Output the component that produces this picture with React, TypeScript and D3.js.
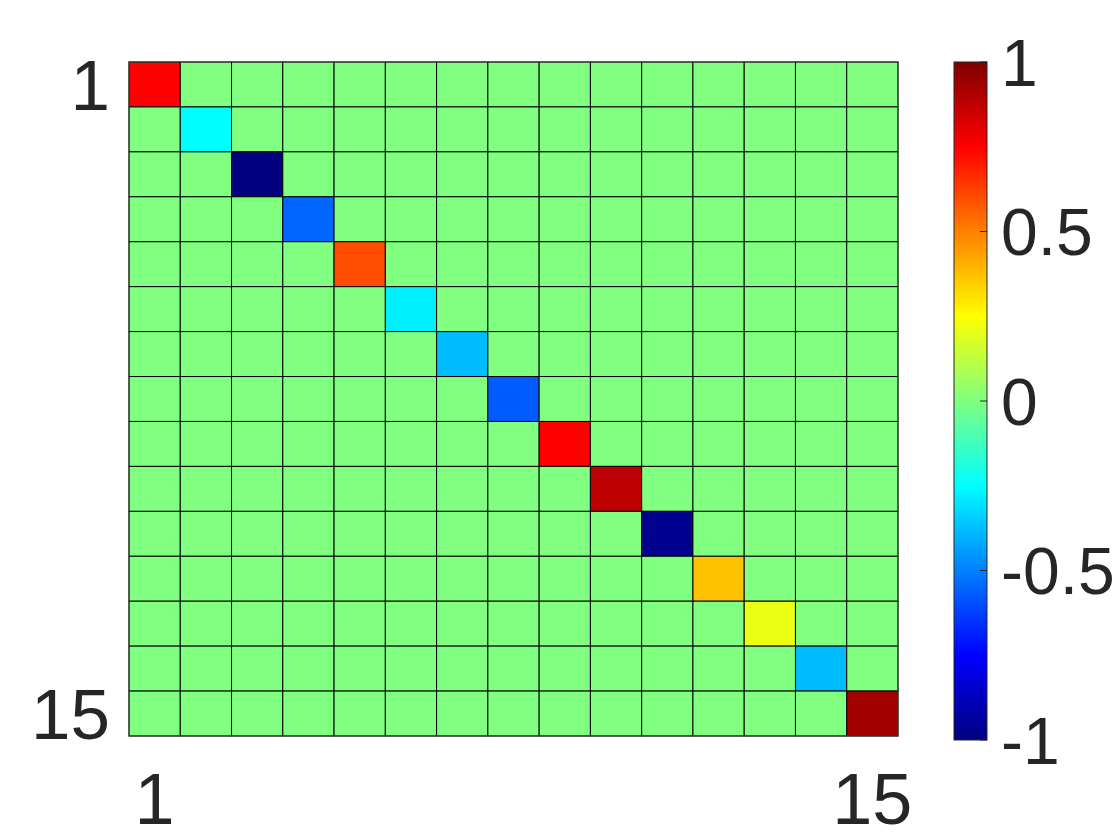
import React from "react";
import * as d3 from "d3";

// diagonal entries of the 15x15 matrix, everything else is 0
const diagonal = [0.75, -0.25, -1, -0.55, 0.6, -0.28, -0.38, -0.57, 0.75, 0.88, -0.97, 0.37, 0.21, -0.38, 0.93];
const indices = d3.range(1, 16);
const axisTicks = [1, 15];
const colorbarTicks = [-1, -0.5, 0, 0.5, 1];

const W = 1120;
const H = 840;
const grid = { left: 129, top: 62, right: 898, bottom: 736 };
const bar = { left: 954, right: 987, top: 62, bottom: 740 };
const font = "'Liberation Sans', Arial, Helvetica, sans-serif";
const textColor = "#262626";

// MATLAB-style jet colormap
const jet = (t: number) => {
  const c = (x: number) => Math.round(255 * Math.max(0, Math.min(1, x)));
  return d3.rgb(c(1.5 - Math.abs(4 * t - 3)), c(1.5 - Math.abs(4 * t - 2)), c(1.5 - Math.abs(4 * t - 1))).formatHex();
};

const App = () => {
  const x = d3.scaleBand<number>().domain(indices).range([grid.left, grid.right]);
  const y = d3.scaleBand<number>().domain(indices).range([grid.top, grid.bottom]);
  const color = d3.scaleSequential(jet).domain([-1, 1]);
  const cbY = d3.scaleLinear().domain([-1, 1]).range([bar.bottom, bar.top]);

  const cells = indices.flatMap((r) =>
    indices.map((c) => ({ r, c, v: r === c ? diagonal[r - 1] : 0 }))
  );

  const stops = d3.range(0, 1.0001, 1 / 64);

  return (
    <div style={{ position: "absolute", left: 0, top: 0 }}>
      <svg width={W} height={H} style={{ display: "block", background: "#fff" }}>
        <defs>
          <linearGradient id="jetGrad" x1="0" y1="1" x2="0" y2="0">
            {stops.map((s) => (
              <stop key={s} offset={s} stopColor={jet(s)} />
            ))}
          </linearGradient>
        </defs>

        {/* heatmap cells */}
        <g>
          {cells.map((d) => (
            <rect
              key={`${d.r}-${d.c}`}
              x={x(d.c)}
              y={y(d.r)}
              width={x.bandwidth()}
              height={y.bandwidth()}
              fill={color(d.v)}
              stroke="#000"
              strokeWidth={1}
            />
          ))}
          <rect
            x={grid.left}
            y={grid.top}
            width={grid.right - grid.left}
            height={grid.bottom - grid.top}
            fill="none"
            stroke="#3a4a3a"
            strokeWidth={1.2}
          />
        </g>

        {/* row labels */}
        {axisTicks.map((t) => (
          <text
            key={`r${t}`}
            x={110}
            y={(y(t) ?? 0) + y.bandwidth() / 2}
            dy="0.36em"
            textAnchor="end"
            fontFamily={font}
            fontSize={71}
            fill={textColor}
          >
            {t}
          </text>
        ))}

        {/* column labels */}
        {axisTicks.map((t) => (
          <text
            key={`c${t}`}
            x={(x(t) ?? 0) + x.bandwidth() / 2}
            y={824}
            textAnchor="middle"
            fontFamily={font}
            fontSize={72}
            fill={textColor}
          >
            {t}
          </text>
        ))}

        {/* colorbar */}
        <rect
          x={bar.left}
          y={bar.top}
          width={bar.right - bar.left}
          height={bar.bottom - bar.top}
          fill="url(#jetGrad)"
          stroke="#262626"
          strokeWidth={1}
        />
        {colorbarTicks.map((t) => (
          <g key={`cb${t}`}>
            <line x1={bar.right - 7} x2={bar.right} y1={cbY(t)} y2={cbY(t)} stroke="#262626" strokeWidth={1} />
            <text
              x={1001}
              y={cbY(t)}
              dy="0.36em"
              fontFamily={font}
              fontSize={66}
              fill={textColor}
            >
              {t === 0 ? "0" : d3.format("")(t).replace("−", "-")}
            </text>
          </g>
        ))}
      </svg>
    </div>
  );
};

export default App;
